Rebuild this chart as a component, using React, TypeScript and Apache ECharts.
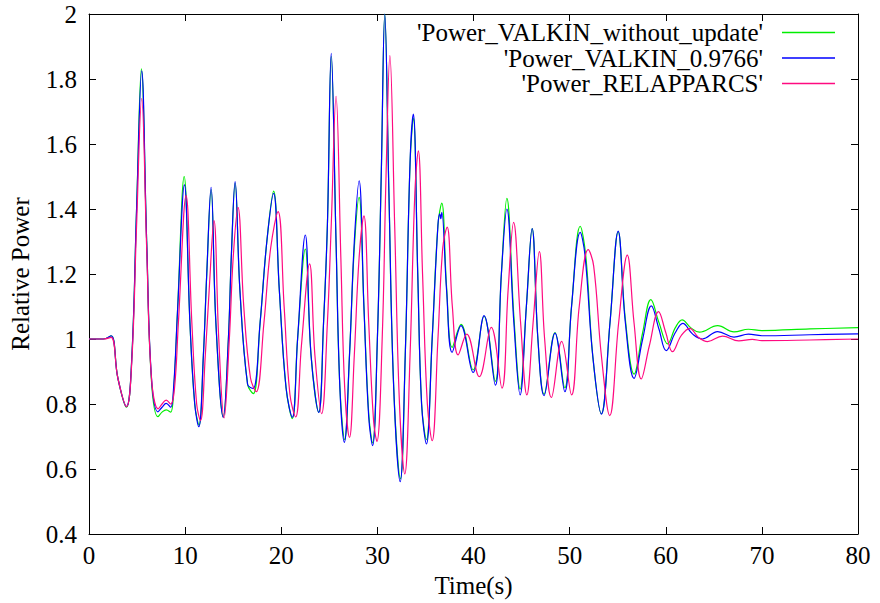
import React, { useEffect, useRef } from "react";
import * as echarts from "echarts";

const seriesNames = [
  "'Power_VALKIN_without_update'",
  "'Power_VALKIN_0.9766'",
  "'Power_RELAPPARCS'",
];
const seriesColors = ["#00ee00", "#0000ff", "#ff0a80"];

const xTicks = { min: 0, max: 80, interval: 10 };
const yTicks = { min: 0.4, max: 2, interval: 0.2 };

const powerWithoutUpdate: [number, number][] = [
  [0, 1.0], [1.5, 1.0], [2.3, 1.01], [3.0, 0.88], [3.9, 0.79], [4.45, 0.94], [4.95, 1.4], [5.45, 1.831],
  [6.0, 1.3], [6.5, 0.87], [7.17, 0.761], [7.6, 0.775], [8.03, 0.782], [8.49, 0.775], [8.8, 0.84],
  [9.2, 1.08], [9.9, 1.5], [10.5, 1.05], [11.0, 0.8], [11.45, 0.735], [11.9, 0.95], [12.25, 1.2],
  [12.7, 1.46], [13.2, 1.05], [13.97, 0.76], [14.5, 1.0], [14.8, 1.25], [15.2, 1.48], [15.7, 1.15],
  [16.5, 0.86], [17.1, 0.832], [17.8, 1.05], [18.5, 1.3], [19.2, 1.455], [19.8, 1.15], [20.5, 0.85],
  [21.15, 0.755], [21.7, 1.0], [22.5, 1.277], [23.1, 0.95], [23.9, 0.775], [24.4, 1.05], [24.8, 1.35],
  [25.2, 1.87], [25.7, 1.3], [26.1, 0.85], [26.6, 0.69], [27.1, 0.95], [27.6, 1.28], [28.1, 1.436],
  [28.6, 1.1], [29.1, 0.77], [29.5, 0.68], [30.0, 1.0], [30.4, 1.5], [30.77, 2.0], [31.2, 1.45],
  [31.7, 0.85], [32.4, 0.57], [32.9, 0.95], [33.4, 1.54], [33.74, 1.68], [34.2, 1.2], [34.6, 0.8],
  [35.1, 0.69], [35.7, 1.0], [36.3, 1.35], [36.7, 1.418], [37.2, 1.16], [37.78, 0.974], [38.7, 1.045],
  [39.96, 0.905], [41.1, 1.07], [42.27, 0.87], [42.9, 1.2], [43.47, 1.433], [44.2, 1.07], [44.85, 0.846],
  [45.5, 1.1], [46.1, 1.34], [46.7, 1.0], [47.34, 0.83], [48.48, 1.02], [49.5, 0.85], [50.2, 1.1],
  [51.1, 1.347], [51.7, 1.25], [52.4, 0.95], [53.3, 0.77], [54.2, 1.05], [55.05, 1.33], [55.8, 1.06],
  [56.7, 0.892], [57.6, 1.02], [58.45, 1.121], [59.3, 1.05], [60.2, 0.985], [61.0, 1.035], [61.7, 1.059],
  [62.6, 1.035], [63.5, 1.021], [65.4, 1.041], [67.1, 1.022], [68.6, 1.03], [70, 1.026], [75, 1.031],
  [80, 1.035],
];

const powerValkin: [number, number][] = [
  [0, 1.0], [1.5, 1.0], [2.3, 1.01], [3.0, 0.88], [3.9, 0.792], [4.45, 0.94], [4.95, 1.4], [5.48, 1.825],
  [6.0, 1.3], [6.5, 0.88], [7.17, 0.776], [7.6, 0.79], [8.03, 0.802], [8.49, 0.79], [8.8, 0.85],
  [9.2, 1.08], [9.93, 1.474], [10.5, 1.05], [11.0, 0.8], [11.42, 0.73], [11.9, 0.95], [12.25, 1.2],
  [12.7, 1.467], [13.2, 1.05], [13.97, 0.759], [14.5, 1.0], [14.8, 1.25], [15.2, 1.484], [15.7, 1.15],
  [16.5, 0.86], [17.08, 0.848], [17.8, 1.05], [18.5, 1.3], [19.2, 1.448], [19.8, 1.15], [20.5, 0.85],
  [21.15, 0.759], [21.7, 1.0], [22.5, 1.32], [23.1, 0.95], [23.9, 0.774], [24.4, 1.05], [24.8, 1.35],
  [25.2, 1.879], [25.7, 1.3], [26.1, 0.85], [26.56, 0.682], [27.1, 0.95], [27.6, 1.3], [28.1, 1.487],
  [28.6, 1.1], [29.1, 0.76], [29.5, 0.672], [30.0, 1.0], [30.4, 1.5], [30.77, 2.0], [31.2, 1.45],
  [31.7, 0.85], [32.37, 0.561], [32.9, 0.95], [33.4, 1.544], [33.74, 1.692], [34.2, 1.2], [34.6, 0.8],
  [35.1, 0.677], [35.7, 1.0], [36.3, 1.35], [36.5, 1.385], [36.6, 1.37], [36.7, 1.39], [37.2, 1.15],
  [37.78, 0.959], [38.7, 1.041], [39.96, 0.897], [41.1, 1.072], [42.27, 0.858], [42.9, 1.2],
  [43.47, 1.4], [44.2, 1.05], [44.85, 0.828], [45.5, 1.1], [46.1, 1.34], [46.7, 1.0], [47.34, 0.826],
  [48.48, 1.018], [49.5, 0.838], [50.2, 1.1], [51.1, 1.328], [51.6, 1.258], [52.4, 0.95], [53.3, 0.769],
  [54.2, 1.05], [55.05, 1.332], [55.8, 1.05], [56.7, 0.879], [57.6, 1.0], [58.5, 1.102], [59.3, 1.03],
  [60.04, 0.964], [61.0, 1.02], [61.77, 1.048], [62.8, 1.015], [63.8, 1.0], [65.4, 1.023], [67.1, 1.006],
  [68.6, 1.015], [70, 1.01], [75, 1.013], [80, 1.016],
];

const powerRelapParcs: [number, number][] = [
  [0, 1.0], [1.5, 1.0], [2.3, 1.005], [3.0, 0.88], [3.9, 0.792], [4.45, 0.93], [4.95, 1.35], [5.48, 1.74],
  [6.0, 1.28], [6.5, 0.88], [7.2, 0.785], [7.6, 0.8], [8.03, 0.812], [8.5, 0.8], [8.9, 0.85],
  [9.3, 1.05], [10.1, 1.441], [10.7, 1.05], [11.2, 0.8], [11.6, 0.749], [12.1, 0.95], [12.5, 1.15],
  [13.0, 1.364], [13.5, 1.0], [14.05, 0.757], [14.6, 1.0], [15.0, 1.25], [15.5, 1.405], [16.1, 1.1],
  [16.8, 0.88], [17.4, 0.838], [18.2, 1.05], [18.9, 1.28], [19.67, 1.392], [20.3, 1.1], [20.9, 0.83],
  [21.5, 0.76], [22.1, 0.98], [22.95, 1.231], [23.5, 0.95], [24.2, 0.77], [24.8, 1.05], [25.2, 1.35],
  [25.7, 1.747], [26.2, 1.25], [26.6, 0.85], [27.1, 0.697], [27.6, 0.95], [28.1, 1.25], [28.6, 1.379],
  [29.1, 1.05], [29.6, 0.75], [29.95, 0.685], [30.5, 1.0], [30.9, 1.5], [31.3, 1.872], [31.8, 1.35],
  [32.3, 0.8], [32.85, 0.585], [33.4, 0.95], [33.9, 1.45], [34.26, 1.579], [34.7, 1.2], [35.2, 0.8],
  [35.7, 0.687], [36.3, 1.0], [36.8, 1.28], [37.26, 1.344], [37.8, 1.1], [38.4, 0.951], [39.3, 1.015],
  [40.6, 0.884], [41.85, 1.036], [42.96, 0.849], [43.6, 1.15], [44.17, 1.359], [44.9, 1.05],
  [45.55, 0.828], [46.2, 1.05], [46.85, 1.269], [47.4, 1.0], [48.1, 0.82], [49.17, 0.993], [50.2, 0.828],
  [51.0, 1.1], [51.93, 1.275], [52.5, 1.225], [53.3, 0.95], [54.17, 0.764], [55.1, 1.05], [56.0, 1.258],
  [56.7, 1.05], [57.45, 0.877], [58.3, 0.98], [59.25, 1.084], [60.0, 1.02], [60.7, 0.961], [61.6, 1.01],
  [62.5, 1.033], [63.4, 1.005], [64.35, 0.992], [65.9, 1.009], [67.6, 0.994], [69.0, 0.999], [70, 0.995],
  [75, 0.997], [80, 1.0],
];

const seriesData = [powerWithoutUpdate, powerValkin, powerRelapParcs];

const FONT = "Liberation Serif";

export default function App() {
  const ref = useRef<HTMLDivElement>(null);
  useEffect(() => {
    if (!ref.current) return;
    const chart = echarts.init(ref.current, null, { renderer: "svg" });
    const axisLine = { show: true, onZero: false, lineStyle: { color: "#000", width: 1 } };
    const tick = { show: true, inside: true, length: 7, lineStyle: { color: "#000", width: 1 } };
    const label = { fontFamily: FONT, fontSize: 25, color: "#000" };
    chart.setOption({
      animation: false,
      backgroundColor: "#fff",
      textStyle: { fontFamily: FONT },
      grid: { left: 85, right: 22, top: 14, bottom: 69, containLabel: false },
      legend: {
        orient: "vertical",
        right: 40,
        top: 15,
        align: "right",
        icon: "path://M0,0L0,2M14,0L67,0L67,2L14,2Z",
        symbolKeepAspect: false,
        itemWidth: 67,
        itemHeight: 1.5,
        itemGap: 0.5,
        itemStyle: { borderWidth: 0 },
        textStyle: { fontFamily: FONT, fontSize: 25, color: "#000", lineHeight: 24 },
        data: seriesNames.map((name, i) => ({ name, itemStyle: { color: seriesColors[i], borderWidth: 0 } })),
      },
      xAxis: [
        {
          type: "value",
          position: "bottom",
          min: xTicks.min,
          max: xTicks.max,
          interval: xTicks.interval,
          axisLine,
          axisTick: tick,
          axisLabel: { ...label, margin: 9 },
          splitLine: { show: false },
          name: "Time(s)",
          nameLocation: "middle",
          nameGap: 38,
          nameTextStyle: label,
        },
        {
          type: "value",
          position: "top",
          min: xTicks.min,
          max: xTicks.max,
          interval: xTicks.interval,
          axisLine,
          axisTick: tick,
          axisLabel: { show: false },
          splitLine: { show: false },
        },
      ],
      yAxis: [
        {
          type: "value",
          position: "left",
          min: yTicks.min,
          max: yTicks.max,
          interval: yTicks.interval,
          axisLine,
          axisTick: tick,
          axisLabel: { ...label, margin: 12 },
          splitLine: { show: false },
          name: "Relative Power",
          nameLocation: "middle",
          nameGap: 56,
          nameRotate: 90,
          nameTextStyle: label,
        },
        {
          type: "value",
          position: "right",
          min: yTicks.min,
          max: yTicks.max,
          interval: yTicks.interval,
          axisLine,
          axisTick: tick,
          axisLabel: { show: false },
          splitLine: { show: false },
        },
      ],
      series: seriesNames.map((name, i) => ({
        name,
        type: "line",
        data: seriesData[i],
        xAxisIndex: 0,
        yAxisIndex: 0,
        showSymbol: false,
        symbol: "none",
        smooth: 0.4,
        color: seriesColors[i],
        lineStyle: { color: seriesColors[i], width: 1.2 },
        itemStyle: { color: seriesColors[i] },
        z: 2 + i,
      })),
    });
    return () => chart.dispose();
  }, []);
  return (
    <div
      ref={ref}
      style={{ position: "fixed", left: 0, top: 0, width: 880, height: 603 }}
    />
  );
}
